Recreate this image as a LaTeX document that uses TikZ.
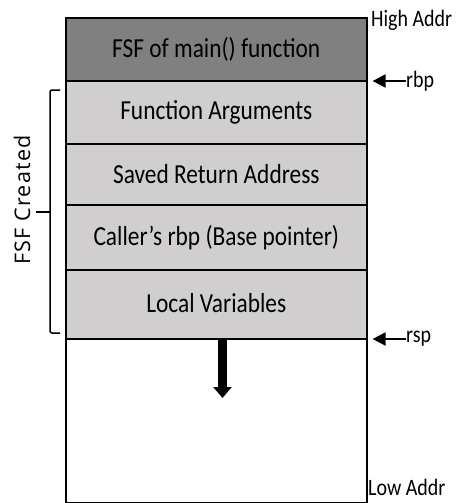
\documentclass[tikz,border=0pt]{standalone}
\usepackage{fontspec}
\setmainfont[FakeStretch=0.85]{Carlito}
\newfontfamily\bracefont[LetterSpace=6]{Open Sans}
\usetikzlibrary{arrows.meta}
\definecolor{mainfill}{HTML}{808080}
\definecolor{slotfill}{HTML}{D0CECE}
\begin{document}
\begin{tikzpicture}[x=1pt,y=1pt,
  frame/.style={draw=black, line width=1.6pt, minimum width=301pt, inner sep=0pt,
    anchor=north west, font=\fontsize{27.5}{30}\selectfont},
  mainframe/.style={frame, fill=mainfill},
  slot/.style={frame, fill=slotfill},
  addr/.style={font=\fontsize{23.5}{26}\selectfont, inner sep=0pt},
  ptr/.style={-{Triangle[length=13pt,width=13pt]}, line width=2pt},
  brace/.style={line width=1.5pt, rounded corners=2pt},
]
\useasboundingbox (0,0) rectangle (459,-503);

% stack frames, top to bottom
\node[mainframe, minimum height=63pt] (main) at (65,-17) {\raisebox{-2pt}{FSF of main() function}};
\node[slot, minimum height=63pt] (args) at (65,-80) {Function Arguments};
\node[slot, minimum height=61pt] (ret) at (65,-143) {\raisebox{-5pt}{Saved Return Address}};
\node[slot, minimum height=65pt] (callerbp) at (65,-204) {Caller’s rbp (Base pointer)};
\node[slot, minimum height=69pt] (locals) at (65,-269) {\raisebox{2pt}{Local Variables}};
\node[frame, fill=white, minimum height=164pt] (free) at (65,-338) {};

% stack growth direction
\coordinate (growtip) at (222.5,-398);
\draw[line width=9pt, -{Triangle[length=11pt,width=18pt]}] (growtip |- free.north) -- (growtip);

% address labels
\node[addr, anchor=base west] (high) at (371,-27) {High Addr};
\node[addr, anchor=base west] (low) at (368,-495) {Low Addr};

% register pointers
\node[addr, anchor=west] (rbp) at (406,-81) {rbp};
\node[addr, anchor=west] (rsp) at (406,-339) {rsp};
\draw[ptr] (rbp.west) -- ([xshift=5pt]rbp.west -| args.east);
\draw[ptr] (rsp.west) -- ([xshift=5pt]rsp.west -| free.east);

% bracket over the new frame
\coordinate (bt) at (60,-90);
\coordinate (bb) at (60,-333);
\coordinate (bm) at (50,-212);
\draw[brace] (bt) -- (bt -| bm) -- (bb -| bm) -- (bb);
\draw[line width=1.5pt] (bm) -- ++(-14,0);
\node[rotate=90, inner sep=0pt, font=\bracefont\fontsize{21.5}{25}\selectfont] (created) at (22,-200) {FSF Created};
\end{tikzpicture}
\end{document}
